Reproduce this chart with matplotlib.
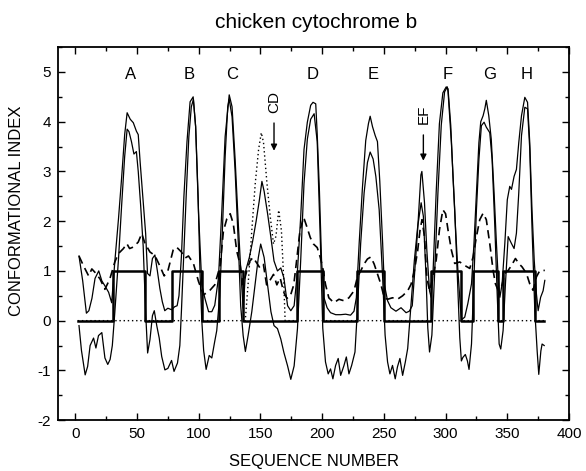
import numpy as np
import matplotlib
matplotlib.use("Agg")
import matplotlib.pyplot as plt

plt.rcParams['font.family'] = ['Liberation Sans', 'DejaVu Sans']
plt.rcParams['axes.unicode_minus'] = False

# predicted helix segments (square wave, 1 = helix)
helix_start = [31, 79, 117, 180, 229, 289, 323, 347]
helix_end = [56, 102, 135, 200, 250, 312, 342, 372]
seq_first, seq_last = 2, 380

# upper thin solid profile
up_x = [3, 6, 9, 11, 13.5, 16, 19, 21.5, 24, 27, 29.5, 32, 35, 37.5, 40, 42, 44.5, 47, 49.5, 51,
        52.5, 55, 57, 58.5, 60.5, 62.5, 64.5, 66.5, 68.5, 70.5, 72.5, 75, 78, 80.5, 82.5, 84, 86, 88,
        90.5, 93, 95.5, 97.5, 99.8, 102.5, 105, 108, 110.6, 113, 116, 118.7, 121.4, 124.7, 127,
        129.5, 132.2, 134.4, 136, 138, 141, 143.7, 146.5, 149, 151.2, 153, 155.8, 158.5, 161,
        163.8, 166.5, 169, 172, 174.6, 177.3, 180, 182.6, 185.3, 188, 190.7, 192.6, 194.8, 196,
        197.8, 199.5, 201.4, 204, 206.8, 211, 215, 219, 223, 225.8, 227.7, 230, 232.6, 235.3,
        237.5, 238.9, 240.8, 243, 244.8, 246.7, 249, 250.3, 253, 255.7, 259.8, 263.9, 268, 270.6,
        273, 274.7, 277.4, 280, 280.8, 282.9, 284.8, 287, 288.3, 289.7, 292.4, 295, 297.8, 300.5,
        302, 304.2, 306, 308, 310, 312, 313, 315.5, 318, 321, 323, 325, 327, 328.5, 330.4, 331.8,
        333, 335, 337, 339.3, 341.2, 342.6, 344, 345.8, 348, 350, 352, 353.4, 355.5, 357.4, 359.3,
        361.5, 364.2, 366.4, 368.2, 370, 371.8, 373.6, 375, 377, 379, 380.4]
up_y = [1.3, 0.8, 0.15, 0.2, 0.45, 0.85, 1.0, 0.8, 0.7, 0.57, 0.36, 1.18, 2.05, 2.86, 3.74, 4.18,
        4.05, 3.98, 3.81, 3.74, 3.2, 2.39, 1.75, 0.95, 0.9, 1.25, 1.32, 1.0, 0.65, 0.38, 0.2, 0.25,
        0.22, 0.28, 0.3, 0.5, 1.3, 2.5, 3.6, 4.4, 4.5, 3.9, 2.2, 0.72, 0.45, 0.18, 0.18, 0.31,
        0.86, 2.2, 3.7, 4.54, 4.3, 3.24, 1.88, 0.86, 0.25, 1.0, 1.27, 1.6, 2.0, 2.4, 2.8, 2.6,
        2.15, 1.67, 1.2, 1.0, 1.06, 0.86, 0.3, 0.2, 0.3, 1.0, 2.08, 3.44, 3.99, 4.33, 4.39, 4.36,
        3.75, 2.6, 1.22, 0.47, 0.26, 0.16, 0.12, 0.12, 0.13, 0.11, 0.19, 0.46, 1.56, 2.66, 3.62,
        3.96, 4.11, 3.9, 3.72, 3.6, 2.8, 1.56, 0.74, 0.4, 0.26, 0.19, 0.26, 0.16, 0.19, 0.3, 0.88,
        1.84, 2.93, 3.0, 2.38, 1.42, 0.6, 0.47, 0.88, 2.59, 3.96, 4.58, 4.7, 4.66, 3.92, 2.9,
        1.89, 1.0, 0.27, 0.02, 0.07, 0.34, 0.74, 1.55, 2.57, 3.58, 4.0, 4.12, 4.26, 4.43, 4.12,
        3.65, 2.57, 1.55, 0.88, 0.47, 0.74, 1.55, 2.43, 2.7, 2.64, 2.9, 3.04, 3.58, 4.12, 4.49,
        4.39, 3.58, 2.23, 1.22, 0.54, 0.2, 0.47, 0.6, 0.81]

# lower thin solid profile
lo_x = [3, 5, 8, 10, 12, 14.8, 16.7, 18.8, 21.5, 24, 26.3, 28.2, 30, 32, 35, 37.5, 40, 42, 43.5,
        45.5, 47.5, 49.5, 51, 53, 55, 57, 58.6, 60.5, 62.5, 64, 66, 68, 70, 72.6, 75, 78, 80, 82.8,
        84.7, 86, 88, 90, 92, 94, 95.7, 97.5, 99.5, 101, 102.5, 104, 106, 108.5, 110.6, 112.8,
        114.6, 117, 118.7, 121.4, 123.5, 124.7, 127, 129.5, 132, 134, 136, 137.8, 140, 143, 145.6,
        148.3, 150.2, 153, 155.8, 158.5, 161, 163.8, 166.5, 169, 172, 174.6, 177.3, 180, 182.6,
        185.3, 188, 190.7, 193.5, 196, 198.6, 200.5, 202.7, 204.9, 206.8, 208.7, 210.9, 213, 215,
        217.7, 219.6, 221.7, 223.9, 226.6, 228.5, 231.2, 234, 236.7, 238.9, 241.3, 243.5, 246.2,
        249, 251, 253, 254.9, 257, 259.2, 261, 263, 265.2, 267.4, 269.3, 272, 274.7, 277.4, 280.2,
        282, 284.2, 285.6, 287, 288.9, 291, 293.8, 296.5, 299.2, 301.4, 302, 304.7, 307.4, 309.6,
        311.5, 312.8, 314, 316, 317.7, 319, 321, 323, 325, 327, 329, 331.2, 333, 335.8, 337.7,
        339.9, 341.8, 343.4, 344.7, 346.6, 348.5, 350.7, 353.4, 355.5, 357.4, 359.3, 361.5, 364.2,
        366.4, 368.2, 370, 372.3, 374.2, 375.5, 377.2, 378.2, 379.9]
lo_y = [-0.1, -0.6, -1.09, -0.92, -0.5, -0.35, -0.55, -0.3, -0.24, -0.75, -0.88, -0.78, -0.5,
        0.16, 1.24, 2.3, 3.3, 3.85, 3.8, 3.6, 3.35, 3.4, 3.0, 2.3, 1.5, 0.16, -0.65, -0.38, 0.1,
        0.2, -0.1, -0.35, -0.72, -0.99, -0.96, -0.8, -1.02, -0.85, -0.5, 0.2, 1.4, 2.6, 3.7, 4.3,
        4.45, 3.9, 2.5, 1.0, 0.0, -0.6, -0.98, -0.7, -0.75, -0.44, -0.2, 0.5, 1.5, 3.3, 4.3, 4.45,
        4.1, 3.0, 1.6, 0.3, -0.3, -0.62, -0.3, 0.18, 0.72, 1.27, 1.54, 1.27, 0.72, 0.18, -0.1,
        -0.16, -0.37, -0.64, -0.91, -1.18, -0.91, -0.16, 1.2, 2.76, 3.65, 4.05, 4.16, 3.6, 1.55,
        -0.15, -0.83, -1.07, -0.97, -1.17, -0.9, -0.76, -1.1, -0.9, -0.73, -1.07, -0.9, -0.63,
        0.19, 1.55, 2.57, 3.18, 3.39, 3.25, 2.9, 2.23, 0.87, -0.29, -0.83, -1.07, -0.9, -1.17,
        -0.93, -0.76, -1.1, -0.83, -0.56, 0.33, 1.21, 1.89, 2.37, 2.1, 0.87, -0.15, -0.63, -0.29,
        0.87, 2.57, 3.93, 4.6, 4.7, 4.6, 3.58, 2.23, 0.88, -0.34, -0.81, -0.74, -0.68, -0.81,
        -0.98, -0.47, 0.88, 2.23, 3.24, 3.92, 3.99, 3.89, 3.78, 3.24, 1.89, 0.54, -0.47, -0.57,
        -0.2, 0.74, 1.69, 1.55, 1.45, 1.76, 2.57, 3.72, 4.29, 4.26, 3.45, 1.89, 0.2, -0.61, -1.08,
        -0.61, -0.47, -0.5]

# dashed profile
da_x = [3, 6.7, 10.8, 13.4, 16, 20, 24, 28, 32, 35, 39, 41.7, 44, 47, 51, 53.8, 56.5, 60.5, 64.5,
        68.5, 72, 75, 79.3, 82, 86, 89, 91.7, 95.7, 99.8, 103.8, 108, 113, 117.3, 120, 122.8,
        125.5, 128, 130.8, 133.5, 136, 138.8, 141.5, 144, 147, 149.6, 152.4, 155, 157.9, 160.6,
        163.3, 166, 168.7, 171.4, 174, 177, 179.6, 182, 185, 187.7, 190.4, 193, 196, 198.5, 201,
        202.7, 205.4, 209.5, 213.6, 217.7, 221.7, 225.8, 228.5, 231.2, 234, 236.7, 239.4, 242.1,
        244.8, 247.6, 250.3, 253, 257, 261, 265.2, 269.3, 272, 274.7, 277.4, 279.3, 280.9, 282.9,
        284.8, 287, 289.7, 292.4, 295, 297.8, 300, 302, 304.7, 307.4, 311.5, 315.5, 319.6, 322.3,
        325, 327.7, 330.4, 333, 335.8, 338.5, 340.4, 342.6, 345.3, 348, 350.7, 353.4, 356.6,
        359.3, 362, 365.5, 368.2, 370.9, 373.6, 376.4, 380.4]
da_y = [1.3, 1.1, 0.9, 1.04, 0.97, 0.84, 0.63, 0.84, 1.18, 1.35, 1.45, 1.55, 1.45, 1.48, 1.58,
        1.75, 1.55, 1.38, 1.31, 1.1, 0.9, 1.0, 1.42, 1.48, 1.38, 1.26, 1.3, 1.15, 0.79, 0.52,
        0.58, 0.72, 1.1, 1.8, 2.05, 2.15, 1.95, 1.4, 1.13, 0.72, 0.99, 1.2, 1.27, 1.16, 1.06,
        1.13, 0.72, 0.82, 0.93, 0.72, 0.86, 0.58, 0.45, 0.48, 0.72, 1.27, 1.81, 2.08, 1.88, 1.67,
        1.54, 1.47, 1.27, 1.0, 0.73, 0.46, 0.36, 0.43, 0.4, 0.46, 0.6, 0.87, 1.0, 1.14, 1.24,
        1.28, 1.14, 0.94, 0.73, 0.46, 0.43, 0.46, 0.43, 0.5, 0.6, 0.73, 1.0, 1.41, 1.82, 2.03,
        1.69, 0.87, 0.6, 0.87, 1.22, 1.82, 2.23, 2.15, 1.82, 1.42, 1.15, 1.18, 1.11, 1.05, 1.28,
        1.69, 2.03, 2.16, 2.03, 1.55, 1.01, 0.74, 0.61, 0.68, 0.95, 1.01, 1.11, 1.25, 1.15, 1.08,
        0.95, 0.74, 0.61, 0.88, 1.01, 1.01]

# dotted profile (zero except the CD loop)
do_x = [2, 137.7, 140.4, 143, 145.8, 148.5, 150.7, 152.5, 155.3, 158, 160.6, 162.6, 164.8, 167,
        168.8, 170, 380]
do_y = [0, 0, 0.86, 1.81, 2.76, 3.44, 3.78, 3.58, 2.76, 2.08, 1.54, 1.7, 2.22, 1.81, 0.86, 0, 0]

helix_names = ['A', 'B', 'C', 'D', 'E', 'F', 'G', 'H']
helix_label_x = [45, 92, 127, 192, 241, 302, 336, 366]

residues = np.arange(seq_first, seq_last + 1)
helix = np.zeros(len(residues))
for s, e in zip(helix_start, helix_end):
    helix[(residues >= s) & (residues <= e)] = 1

fig = plt.figure(figsize=(5.86, 4.71), dpi=100)
ax = fig.add_axes([0.099, 0.108, 0.872, 0.792])

ax.plot(do_x, do_y, color='black', lw=1.0, linestyle=(0, (1, 2)))
ax.plot(da_x, da_y, color='black', lw=1.2, linestyle=(0, (5, 3)))
ax.plot(lo_x, lo_y, color='black', lw=0.9)
ax.plot(up_x, up_y, color='black', lw=0.9)
ax.plot(residues, helix, color='black', lw=1.8, drawstyle='steps-mid')

for name, hx in zip(helix_names, helix_label_x):
    ax.text(hx, 4.95, name, ha='center', va='center', fontsize=12)

ax.text(161, 4.4, 'CD', rotation=90, ha='center', va='center', fontsize=11)
ax.annotate('', xy=(161, 3.36), xytext=(161, 4.03),
            arrowprops=dict(arrowstyle='-|>', color='black', lw=1.0, mutation_scale=9))
ax.text(282, 4.15, 'EF', rotation=90, ha='center', va='center', fontsize=11)
ax.annotate('', xy=(282, 3.16), xytext=(282, 3.79),
            arrowprops=dict(arrowstyle='-|>', color='black', lw=1.0, mutation_scale=9))

ax.set_xlim(-14, 400)
ax.set_ylim(-2, 5.5)
ax.set_xticks(np.arange(0, 401, 50))
ax.set_xticks(np.arange(0, 401, 25), minor=True)
ax.set_yticks(np.arange(-2, 6, 1))
ax.set_yticks(np.arange(-2, 5.6, 0.5), minor=True)
ax.tick_params(which='both', direction='in', top=True, right=True, labelsize=11, width=1, pad=5)
ax.tick_params(which='major', length=5)
ax.tick_params(which='minor', length=3)
for sp in ax.spines.values():
    sp.set_linewidth(1.3)

ax.set_xlabel('SEQUENCE NUMBER', fontsize=12)
ax.xaxis.set_label_coords(0.5, -0.09)
ax.set_ylabel('CONFORMATIONAL INDEX', fontsize=12)
ax.yaxis.set_label_coords(-0.066, 0.56)
fig.text(0.54, 1 - 23 / 471, 'chicken cytochrome b', ha='center', va='center', fontsize=15)

fig.savefig('out.png', dpi=100)
